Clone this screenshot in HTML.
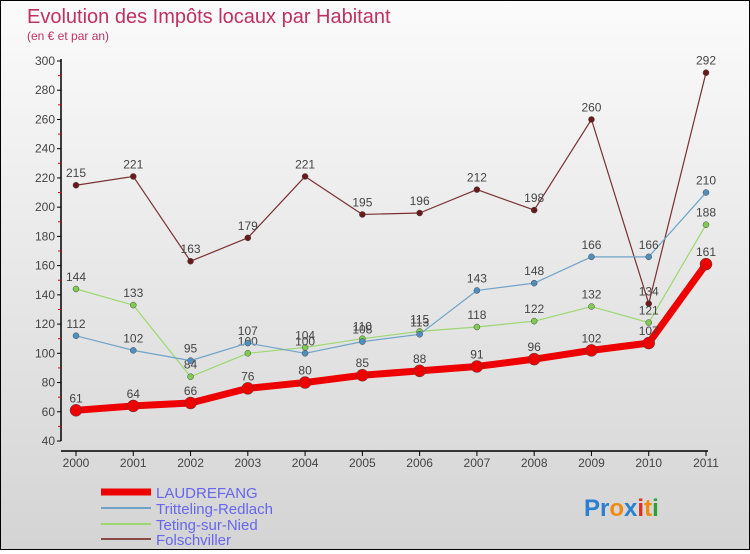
<!DOCTYPE html>
<html><head><meta charset="utf-8"><style>
body{margin:0;width:750px;height:550px;overflow:hidden;font-family:"Liberation Sans",sans-serif}
#wrap{position:relative;width:748px;height:548px;border:1px solid #000;background:linear-gradient(#fbfbfb,#d4d4d4)}
</style></head><body>
<div id="wrap">
<svg id="chart" width="748" height="548">
<text x="26" y="22" font-size="20" fill="#c03060">Evolution des Impôts locaux par Habitant</text>
<text x="26" y="39" font-size="12" fill="#c03060">(en € et par an)</text>
<g id="axes"></g><g id="series"></g>
<g>
<line x1="100" y1="491" x2="150" y2="491" stroke="#e00" stroke-width="7"/>
<text x="155" y="497" font-size="15" fill="#6666ee">LAUDREFANG</text>
<line x1="100" y1="507" x2="150" y2="507" stroke="#6fa3c8" stroke-width="2"/>
<text x="155" y="513" font-size="15" fill="#6666ee">Tritteling-Redlach</text>
<line x1="100" y1="523" x2="150" y2="523" stroke="#9cd870" stroke-width="2"/>
<text x="155" y="529" font-size="15" fill="#6666ee">Teting-sur-Nied</text>
<line x1="100" y1="538" x2="150" y2="538" stroke="#8a4a4a" stroke-width="2"/>
<text x="155" y="544" font-size="15" fill="#6666ee">Folschviller</text>
</g>
<g font-size="24" font-weight="bold">
<text x="583" y="515"><tspan fill="#2a7fd0">Pr</tspan><tspan fill="#f08a10">o</tspan><tspan fill="#2a7fd0">x</tspan><tspan fill="#e03020">i</tspan><tspan fill="#f08a10">t</tspan><tspan fill="#30a030">i</tspan></text>
</g>
</svg></div>
<script>
const years=["2000","2001","2002","2003","2004","2005","2006","2007","2008","2009","2010","2011"];
const laudrefang=[61,64,66,76,80,85,88,91,96,102,107,161];
const tritteling=[112,102,95,107,100,108,113,143,148,166,166,210];
const teting=[144,133,84,100,104,110,115,118,122,132,121,188];
const folschviller=[215,221,163,179,221,195,196,212,198,260,134,292];
const yTicks=[40,60,80,100,120,140,160,180,200,220,240,260,280,300];
const NS="http://www.w3.org/2000/svg";
const X=i=>75+i*(630/11), Y=v=>440-(v-40)*(380/260);
function mk(tag,attrs,parent){const e=document.createElementNS(NS,tag);for(const k in attrs)e.setAttribute(k,attrs[k]);parent.appendChild(e);return e;}
const ax=document.getElementById('axes');
let a=mk('line',{x1:60,y1:58,x2:60,y2:440,stroke:'#000','stroke-width':1.5},ax);


a=mk('line',{x1:60,y1:450,x2:707,y2:450,stroke:'#000','stroke-width':1.5},ax);


yTicks.forEach(v=>{
 mk('line',{x1:56,y1:Y(v),x2:60,y2:Y(v),stroke:'#000'},ax);
 if(v<300)mk('line',{x1:57,y1:Y(v+10),x2:60,y2:Y(v+10),stroke:'#e00'},ax);
 const t=mk('text',{x:54,y:Y(v)+4,'text-anchor':'end','font-size':12,fill:'#444'},ax);t.textContent=v;
 
 
});
years.forEach((y,i)=>{
 mk('line',{x1:X(i),y1:450,x2:X(i),y2:455,stroke:'#000'},ax);
 const t=mk('text',{x:X(i),y:466,'text-anchor':'middle','font-size':12,fill:'#444'},ax);t.textContent=y;
 
 
});
const sg=document.getElementById('series');
function draw(data,color,w,r,name,dot){
 const p=mk('polyline',{points:data.map((v,i)=>X(i)+','+Y(v)).join(' '),fill:'none',stroke:color,'stroke-width':w,'stroke-linejoin':'round'},sg);
 
 
 data.forEach((v,i)=>{
  const c=mk('circle',{cx:X(i),cy:Y(v),r:r,fill:dot,stroke:'#444','stroke-width':0.5},sg);
  
  
  const t=mk('text',{x:X(i),y:Y(v)-8,'text-anchor':'middle','font-size':12,fill:'#444'},sg);t.textContent=v;
  
  
 });
}
draw(folschviller,'#7a3030',1.2,3,'folschviller','#6a1a1a');
draw(teting,'#9cd870',1.2,3,'teting','#80cc50');
draw(tritteling,'#6fa3c8',1.2,3,'tritteling','#4f8fc0');
draw(laudrefang,'#ee0000',7,6,'laudrefang','#ee0000');
</script>
</body></html>
